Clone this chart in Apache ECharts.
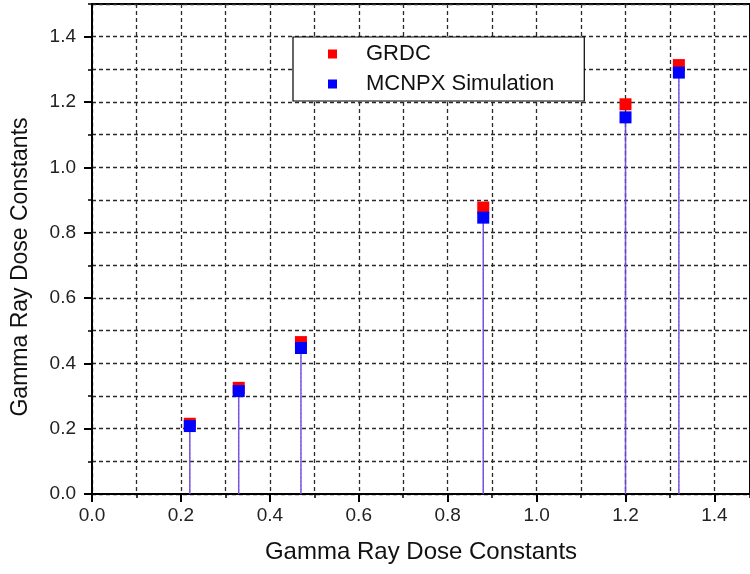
<!DOCTYPE html>
<html>
<head>
<meta charset="utf-8">
<script src="https://cdn.jsdelivr.net/npm/echarts@6/dist/echarts.min.js"></script>
<style>
  html, body { margin: 0; padding: 0; background: #fff; }
  #main { width: 750px; height: 574px; }
</style>
</head>
<body>
<div id="main"></div>
<script>
// measured gamma ray dose constants
var xVals = [0.22, 0.33, 0.47, 0.88, 1.20, 1.32];
var grdcVals = [0.215, 0.325, 0.465, 0.877, 1.193, 1.313];
var mcnpxVals = [0.208, 0.315, 0.447, 0.846, 1.153, 1.29];
var seriesNames = ['GRDC', 'MCNPX Simulation'];
var axisTitle = 'Gamma Ray Dose Constants';

function pairs(xs, ys) {
	var out = [];
	for (var i = 0; i < xs.length; i++) out.push([xs[i], ys[i]]);
	return out;
}

// vertical drop line from the point down to y = 0
function dropLine(color, width, dash, opacity) {
	return function (params, api) {
		var p0 = api.coord([api.value(0), 0]);
		var p1 = api.coord([api.value(0), api.value(1)]);
		return {
			type: 'line',
			shape: { x1: p0[0], y1: p0[1], x2: p1[0], y2: p1[1] },
			style: { stroke: color, lineWidth: width, lineDash: dash, opacity: opacity }
		};
	};
}

var FONT = 'Liberation Sans';
var X_MAX = 1.48, Y_MAX = 1.5;
var gridDash = { color: '#2a2a2a', width: 1.3, type: [4, 3] };

var chart = echarts.init(document.getElementById('main'));
chart.setOption({
	animation: false,
	textStyle: { fontFamily: FONT },
	grid: {
		left: 92, right: 0, top: 4, bottom: 80,
		show: true, borderColor: '#000', borderWidth: 2, backgroundColor: 'transparent'
	},
	legend: {
		data: seriesNames,
		orient: 'vertical',
		left: 293, top: 37,
		padding: [6, 30, 6, 35],
		itemWidth: 9, itemHeight: 9,
		itemGap: 8,
		icon: 'rect',
		z: 10,
		backgroundColor: '#fff',
		borderColor: '#000', borderWidth: 1.2,
		textStyle: { fontFamily: FONT, fontSize: 22, color: '#111', padding: [0, 0, 0, 24] }
	},
	xAxis: [
		{
			type: 'value', min: 0, max: X_MAX, interval: 0.2, position: 'bottom',
			name: axisTitle, nameLocation: 'middle', nameGap: 46,
			nameTextStyle: { fontFamily: FONT, fontSize: 24, color: '#111' },
			axisLine: { lineStyle: { color: '#000', width: 2 } },
			axisTick: { inside: false, length: 8, lineStyle: { color: '#000', width: 2 } },
			axisLabel: { fontSize: 19, color: '#222', margin: 12, showMaxLabel: false,
				formatter: function (v) { return v.toFixed(1); } },
			splitLine: { show: false }
		},
		{
			type: 'value', min: 0, max: X_MAX, interval: 0.1, position: 'bottom',
			axisLine: { show: false },
			axisTick: { inside: false, length: 4, lineStyle: { color: '#000', width: 1.5 } },
			axisLabel: { show: false },
			splitLine: { show: true, lineStyle: gridDash }
		}
	],
	yAxis: [
		{
			type: 'value', min: 0, max: Y_MAX, interval: 0.2, position: 'left',
			name: axisTitle, nameLocation: 'middle', nameGap: 60,
			nameTextStyle: { fontFamily: FONT, fontSize: 23, color: '#111', padding: [0, 36, 0, 0] },
			axisLine: { show: true, lineStyle: { color: '#000', width: 2 } },
			axisTick: { show: true, inside: false, length: 8, lineStyle: { color: '#000', width: 2 } },
			axisLabel: { fontSize: 19, color: '#222', margin: 16, showMaxLabel: false,
				formatter: function (v) { return v.toFixed(1); } },
			splitLine: { show: false }
		},
		{
			type: 'value', min: 0, max: Y_MAX, interval: 0.1, position: 'left',
			axisLine: { show: false },
			axisTick: { show: true, inside: false, length: 4, lineStyle: { color: '#000', width: 1.5 } },
			axisLabel: { show: false },
			splitLine: { show: true, lineStyle: gridDash }
		}
	],
	series: [
		{
			name: 'mcnpx-drop', type: 'custom', z: 3,
			renderItem: dropLine('#4a4aff', 1.5, null, 0.9),
			data: pairs(xVals, mcnpxVals)
		},
		{
			name: 'grdc-drop', type: 'custom', z: 4,
			renderItem: dropLine('#ff3030', 1, [1, 3], 0.9),
			data: pairs(xVals, grdcVals)
		},
		{
			name: seriesNames[0], type: 'scatter', z: 5,
			symbol: 'rect', symbolSize: 12,
			itemStyle: { color: '#ff0000', opacity: 1 },
			data: pairs(xVals, grdcVals)
		},
		{
			name: seriesNames[1], type: 'scatter', z: 6,
			symbol: 'rect', symbolSize: 12,
			itemStyle: { color: '#0000ff', opacity: 1 },
			data: pairs(xVals, mcnpxVals)
		}
	]
});
</script>
</body>
</html>
